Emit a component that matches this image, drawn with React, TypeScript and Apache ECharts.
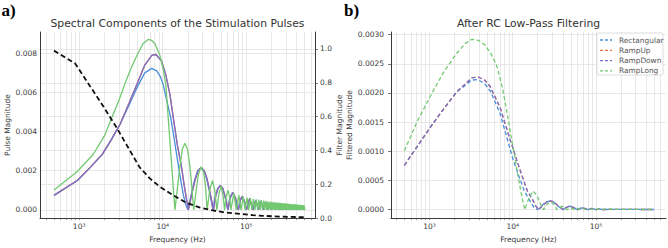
import React, { useEffect, useRef } from "react";
import * as echarts from "echarts";

type Pt = [number, number];

const seriesNames = ["Rectangular", "RampUp", "RampDown", "RampLong"];
const seriesColors = ["#4a8fdb", "#e8743b", "#7b6fcd", "#72c972"];

// tick / grid values
const xTickLabels = [1000, 10000, 100000];
const xGridFreqs = [
  400, 500, 600, 700, 800, 900, 1000, 2000, 3000, 4000, 5000, 6000, 7000, 8000, 9000,
  10000, 20000, 30000, 40000, 50000, 60000, 70000, 80000, 90000, 100000, 200000,
  300000, 400000, 500000, 600000,
];
const pulseTicks = [0, 0.002, 0.004, 0.006, 0.008];
const filterTicks = [0, 0.2, 0.4, 0.6, 0.8, 1.0];
const filteredTicks = [0, 0.0005, 0.001, 0.0015, 0.002, 0.0025, 0.003];

// ---------- panel a: pulse spectra [Hz, magnitude] ----------
const highLobes: Pt[] = [
  [110000, 0.00058], [120000, 0], [130000, 0.0005], [140000, 0], [150000, 0.00044], [160000, 0],
  [170000, 0.00039], [180000, 0], [190000, 0.00035], [200000, 0], [210000, 0.00032], [220000, 0],
  [230000, 0.0003], [240000, 0], [250000, 0.00028], [260000, 0], [270000, 0.00026], [280000, 0],
  [290000, 0.00024], [300000, 0], [310000, 0.00022], [320000, 0], [330000, 0.00021], [340000, 0],
  [350000, 0.0002], [360000, 0], [370000, 0.00019], [380000, 0], [390000, 0.00018], [400000, 0],
  [410000, 0.00017], [420000, 0], [430000, 0.00016], [440000, 0], [450000, 0.00016], [460000, 0],
  [470000, 0.00015], [480000, 0], [490000, 0.00015], [500000, 0],
];

const rectSpectrum: Pt[] = [
  [500, 0.00074], [950, 0.0015], [1350, 0.00216], [1900, 0.00285], [2400, 0.00355], [3100, 0.00439],
  [4000, 0.0054], [5000, 0.0063], [6100, 0.007], [7400, 0.00723], [8500, 0.0071], [9400, 0.0068],
  [10140, 0.0064], [11300, 0.0055], [12500, 0.0047], [14000, 0.0034], [15350, 0.0023], [16500, 0.0015],
  [17600, 0.0008], [18800, 0.0003], [20000, 0],
  [22000, 0.0008], [24000, 0.0015], [26200, 0.002], [28500, 0.00215], [31000, 0.002], [33500, 0.0016],
  [36000, 0.001], [38000, 0.0005], [40000, 0],
  [42500, 0.0007], [45500, 0.0011], [48500, 0.00124], [52000, 0.0011], [56000, 0.0006], [60000, 0],
  [63500, 0.0006], [68500, 0.00088], [74000, 0.0006], [80000, 0],
  [84500, 0.0005], [89000, 0.00068], [94500, 0.00045], [100000, 0],
  ...highLobes,
];

const rampDownSpectrum: Pt[] = [
  [500, 0.00074], [950, 0.0015], [1350, 0.00216], [1900, 0.00285], [2400, 0.00355], [3100, 0.00439],
  [4000, 0.0055], [5000, 0.0065], [6100, 0.0074], [7400, 0.0079], [8300, 0.00794], [9700, 0.0076],
  [10900, 0.0069], [12200, 0.0059], [13400, 0.0047], [15000, 0.0033], [16800, 0.0022], [18000, 0.0013],
  [19000, 0.0007], [20300, 0],
  [22300, 0.0008], [24300, 0.0015], [26500, 0.002], [28900, 0.00217], [31400, 0.002], [33900, 0.0016],
  [36400, 0.001], [38400, 0.0005], [40500, 0],
  [43000, 0.0007], [46000, 0.0011], [49000, 0.00125], [52500, 0.0011], [56500, 0.0006], [60600, 0],
  [64000, 0.0006], [69000, 0.00088], [74500, 0.0006], [80700, 0],
  [85000, 0.0005], [89500, 0.00068], [95000, 0.00045], [100800, 0],
  ...highLobes,
];

// RampUp has the same magnitude spectrum as RampDown (hidden beneath it)
const rampUpSpectrum: Pt[] = rampDownSpectrum;

const rampLongSpectrum: Pt[] = [
  [500, 0.00102], [950, 0.00196], [1470, 0.00283], [2030, 0.00382], [2400, 0.0046], [3000, 0.0056],
  [3500, 0.0064], [4050, 0.0071], [4860, 0.00785], [5830, 0.0085], [6700, 0.00871], [7400, 0.00866],
  [8070, 0.0085], [9250, 0.0079], [10140, 0.0072], [10900, 0.0064], [11640, 0.0047], [12800, 0.0023],
  [13400, 0.0011], [14000, 0],
  [15000, 0.0011], [16000, 0.0022], [17200, 0.0031], [18450, 0.0034], [19800, 0.0031], [21200, 0.0022],
  [22400, 0.0011], [23500, 0],
  [25000, 0.0009], [26700, 0.0018], [28800, 0.0022], [31000, 0.0019], [32700, 0.0011], [34000, 0],
  [36500, 0.001], [39500, 0.0015], [42000, 0.001], [44500, 0],
  [47000, 0.0008], [50000, 0.0012], [52500, 0.0008], [55000, 0],
  [57500, 0.0007], [60500, 0.001], [63000, 0.0007], [65500, 0],
  [71000, 0.00085], [76000, 0], [81500, 0.00075], [86500, 0], [92000, 0.00068], [97000, 0],
  [102000, 0.00063], [107000, 0], [112000, 0.0006], [117000, 0], [122000, 0.00057], [127000, 0],
  [132000, 0.00054], [137000, 0], [142000, 0.00052], [147000, 0], [152000, 0.0005], [157000, 0],
  [162000, 0.00048], [167000, 0], [172000, 0.00046], [177000, 0], [182000, 0.00044], [187000, 0],
  [192000, 0.00043], [197000, 0], [202000, 0.00041], [207000, 0], [212000, 0.0004], [217000, 0],
  [222000, 0.00039], [227000, 0], [232000, 0.00038], [237000, 0], [242000, 0.00037], [247000, 0],
  [252000, 0.00036], [257000, 0], [262000, 0.00035], [267000, 0], [272000, 0.00034], [277000, 0],
  [282000, 0.00034], [287000, 0], [292000, 0.00033], [297000, 0], [302000, 0.00032], [307000, 0],
  [312000, 0.00032], [317000, 0], [322000, 0.00031], [327000, 0], [332000, 0.0003], [337000, 0],
  [342000, 0.0003], [347000, 0], [352000, 0.00029], [357000, 0], [362000, 0.00029], [367000, 0],
  [372000, 0.00028], [377000, 0], [382000, 0.00028], [387000, 0], [392000, 0.00028], [397000, 0],
  [402000, 0.00027], [407000, 0], [412000, 0.00027], [417000, 0], [422000, 0.00026], [427000, 0],
  [432000, 0.00026], [437000, 0], [442000, 0.00026], [447000, 0], [452000, 0.00025], [457000, 0],
  [462000, 0.00025], [467000, 0], [472000, 0.00025], [477000, 0], [482000, 0.00024], [487000, 0],
  [492000, 0.00024], [497000, 0], [500000, 0.00012],
];

// RC filter magnitude (right axis of panel a)
const filterResponse: Pt[] = [
  [500, 0.99], [900, 0.913], [1350, 0.78], [1950, 0.66], [2800, 0.536], [4000, 0.404], [5300, 0.3],
  [7000, 0.235], [9250, 0.185], [13400, 0.135], [19200, 0.09], [28000, 0.062], [40000, 0.045],
  [56000, 0.033], [84000, 0.025], [120000, 0.017], [200000, 0.011], [300000, 0.008], [500000, 0.005],
];

// ---------- panel b: filtered spectra ----------
const rectFiltered: Pt[] = [
  [500, 0.00076], [1000, 0.00139], [1470, 0.00172], [2130, 0.00202], [3230, 0.00222], [3800, 0.00223],
  [4600, 0.00216], [5400, 0.00203], [7000, 0.00166], [8500, 0.00124], [10000, 0.00088], [11700, 0.0006],
  [13800, 0.00032], [16100, 0.00015], [18000, 0.00004], [19800, 0],
  [22000, 0.00006], [25000, 0.00013], [28000, 0.000148], [31000, 0.00013], [35000, 0.00006], [40000, 0],
  [44000, 0.00004], [48000, 0.00006], [53000, 0.00004], [60000, 0],
  [64000, 0.00002], [68000, 0.00003], [73000, 0.00002], [80000, 0],
  [89000, 0.00002], [100000, 0], [110000, 0.000012], [120000, 0],
  [150000, 0.000006], [200000, 0.000004], [300000, 0.000003], [500000, 0.000002],
];

const rampDownFiltered: Pt[] = [
  [500, 0.00076], [1000, 0.00139], [1470, 0.00172], [2130, 0.00202], [3230, 0.00226], [3870, 0.00227],
  [4600, 0.00222], [5360, 0.00211], [7060, 0.00175], [8200, 0.00145], [9300, 0.0012], [10000, 0.00107],
  [11000, 0.00088], [12800, 0.0006], [15000, 0.00032], [17700, 0.00015], [19000, 0.00006], [20300, 0],
  [22500, 0.00006], [25500, 0.00013], [28500, 0.00015], [31500, 0.00013], [35500, 0.00006], [40500, 0],
  [44500, 0.00004], [48500, 0.00006], [53500, 0.00004], [60600, 0],
  [64500, 0.00002], [68500, 0.00003], [73500, 0.00002], [80700, 0],
  [89500, 0.00002], [100800, 0], [110000, 0.000012], [121000, 0],
  [150000, 0.000006], [200000, 0.000004], [300000, 0.000003], [500000, 0.000002],
];

const rampUpFiltered: Pt[] = rampDownFiltered;

const rampLongFiltered: Pt[] = [
  [500, 0.00101], [706, 0.0015], [1020, 0.00194], [1470, 0.00235], [2130, 0.00268], [2700, 0.00285],
  [3230, 0.00292], [3900, 0.0029], [4660, 0.00282], [5500, 0.00267], [6450, 0.00246], [7500, 0.0021],
  [8490, 0.00169], [9500, 0.00128], [10690, 0.00087], [11500, 0.0006], [12400, 0.00035], [13200, 0.00015],
  [14000, 0],
  [15500, 0.00018], [17500, 0.00032], [19500, 0.00025], [21500, 0.0001], [23500, 0],
  [26000, 0.0001], [28500, 0.00013], [31500, 0.00009], [34000, 0],
  [39000, 0.00006], [44500, 0], [50000, 0.00003], [55000, 0], [60000, 0.00002], [65500, 0],
  [71000, 0.000015], [76000, 0], [100000, 0.00001], [200000, 0.000005], [500000, 0.000003],
];

const FONT = "DejaVu Sans";
const SUP: Record<number, string> = { 3: "³", 4: "⁴", 5: "⁵" };
const GRID_LINE = { color: "#e2e2e2", width: 0.8 };
const SPINE = { color: "#3a3a3a", width: 1 };
const LABEL = { fontSize: 7.5, color: "#3a3a3a", fontFamily: FONT };

function xAxisFor(gridIndex: number, min: number, max: number) {
  return {
    type: "log",
    logBase: 10,
    gridIndex,
    min,
    max,
    axisLine: { show: true, onZero: false, lineStyle: SPINE },
    axisTick: { show: true, length: 2, lineStyle: { color: "#555", width: 0.6 }, customValues: xGridFreqs },
    axisLabel: {
      ...LABEL,
      margin: 4,
      customValues: xTickLabels,
      formatter: (v: number) => "10" + SUP[Math.round(Math.log10(v))],
    },
    splitLine: { show: true, lineStyle: GRID_LINE },
    minorTick: { show: false },
    name: "Frequency (Hz)",
    nameLocation: "middle",
    nameGap: 13,
    nameTextStyle: { ...LABEL },
  };
}

function lineSeries(name: string, color: string, data: Pt[], xi: number, yi: number, dashed: boolean, z: number) {
  return {
    type: "line",
    name,
    xAxisIndex: xi,
    yAxisIndex: yi,
    data,
    symbol: "none",
    showSymbol: false,
    z,
    lineStyle: { color, width: 1.3, type: dashed ? [4, 2.5] : "solid" },
    itemStyle: { color },
    emphasis: { disabled: true },
  };
}

// legend (panel b) drawn as graphic elements
function legendGraphic() {
  const x0 = 597, y0 = 33, w = 66, h = 42, rowH = 10.3, firstRow = 40;
  const els: any[] = [
    {
      type: "rect",
      shape: { x: x0, y: y0, width: w, height: h, r: 2 },
      style: { fill: "rgba(255,255,255,0.85)", stroke: "#d4d4d4", lineWidth: 0.8 },
      z: 50,
    },
  ];
  seriesNames.forEach((n, i) => {
    const y = firstRow + i * rowH;
    els.push({
      type: "line",
      shape: { x1: 600, y1: y, x2: 612, y2: y },
      style: { stroke: seriesColors[i], lineWidth: 1.3, lineDash: [3, 2] },
      z: 51,
    });
    els.push({
      type: "text",
      x: 619,
      y,
      style: { text: n, fontSize: 7.4, fontFamily: FONT, fill: "#555", align: "left", verticalAlign: "middle" },
      z: 51,
    });
  });
  return els;
}

export default function App() {
  const ref = useRef<HTMLDivElement>(null);
  useEffect(() => {
    if (!ref.current) return;
    const chart = echarts.init(ref.current, undefined, { renderer: "svg" });
    const leftData = [rectSpectrum, rampUpSpectrum, rampDownSpectrum, rampLongSpectrum];
    const rightData = [rectFiltered, rampUpFiltered, rampDownFiltered, rampLongFiltered];
    const series: any[] = [];
    seriesNames.forEach((n, i) => series.push(lineSeries(n, seriesColors[i], leftData[i], 0, 0, false, 2 + i)));
    series.push({
      type: "line",
      name: "Filter",
      xAxisIndex: 0,
      yAxisIndex: 1,
      data: filterResponse,
      symbol: "none",
      showSymbol: false,
      z: 10,
      lineStyle: { color: "#111", width: 1.8, type: [5, 3] },
      itemStyle: { color: "#111" },
    });
    seriesNames.forEach((n, i) => series.push(lineSeries(n, seriesColors[i], rightData[i], 1, 2, true, 2 + i)));

    chart.setOption({
      animation: false,
      backgroundColor: "#ffffff",
      textStyle: { fontFamily: FONT },
      grid: [
        { left: 40, top: 32, width: 275, height: 192 },
        { left: 391, top: 32, width: 275, height: 192 },
      ],
      xAxis: [xAxisFor(0, 340, 665000), xAxisFor(1, 345, 695000)],
      yAxis: [
        {
          type: "value",
          gridIndex: 0,
          position: "left",
          min: -0.00042,
          max: 0.00909,
          axisLine: { show: true, lineStyle: SPINE },
          axisTick: { show: false, customValues: pulseTicks },
          axisLabel: { ...LABEL, margin: 3, customValues: pulseTicks, formatter: (v: number) => v.toFixed(3) },
          splitLine: { show: true, lineStyle: GRID_LINE },
          name: "Pulse Magnitude",
          nameLocation: "middle",
          nameGap: 29,
          nameRotate: 90,
          nameTextStyle: { ...LABEL },
        },
        {
          type: "value",
          gridIndex: 0,
          position: "right",
          min: 0,
          max: 1.1,
          axisLine: { show: true, onZero: false, lineStyle: SPINE },
          axisTick: { show: true, length: 3, lineStyle: { color: "#555", width: 0.8 }, customValues: filterTicks },
          axisLabel: { ...LABEL, margin: 5, customValues: filterTicks, formatter: (v: number) => v.toFixed(1) },
          splitLine: { show: true, lineStyle: GRID_LINE },
          name: "Filter Magnitude",
          nameLocation: "middle",
          nameGap: 18,
          nameRotate: 90,
          nameTextStyle: { ...LABEL },
        },
        {
          type: "value",
          gridIndex: 1,
          position: "left",
          min: -0.000145,
          max: 0.003045,
          axisLine: { show: true, lineStyle: SPINE },
          axisTick: { show: true, length: 3, lineStyle: { color: "#555", width: 0.8 }, customValues: filteredTicks },
          axisLabel: { ...LABEL, margin: 7, customValues: filteredTicks, formatter: (v: number) => v.toFixed(4) },
          splitLine: { show: true, lineStyle: GRID_LINE },
          name: "Filtered Magnitude",
          nameLocation: "middle",
          nameGap: 35,
          nameRotate: 90,
          nameTextStyle: { ...LABEL },
        },
      ],
      graphic: [
        { type: "text", x: 1.5, y: 10, style: { text: "a)", fontSize: 17, fontWeight: "bold", fontFamily: "Liberation Serif", fill: "#000", align: "left", verticalAlign: "middle" } },
        { type: "text", x: 344, y: 10.5, style: { text: "b)", fontSize: 17, fontWeight: "bold", fontFamily: "Liberation Serif", fill: "#000", align: "left", verticalAlign: "middle" } },
        { type: "text", x: 177.5, y: 23, style: { text: "Spectral Components of the Stimulation Pulses", fontSize: 10.8, fontFamily: FONT, fill: "#333", align: "center", verticalAlign: "middle" } },
        { type: "text", x: 528.5, y: 23, style: { text: "After RC Low-Pass Filtering", fontSize: 10.8, fontFamily: FONT, fill: "#333", align: "center", verticalAlign: "middle" } },
        ...legendGraphic(),
      ],
      series,
    });
    return () => chart.dispose();
  }, []);
  return <div ref={ref} style={{ position: "fixed", left: 0, top: 0, width: 668, height: 248 }} />;
}
